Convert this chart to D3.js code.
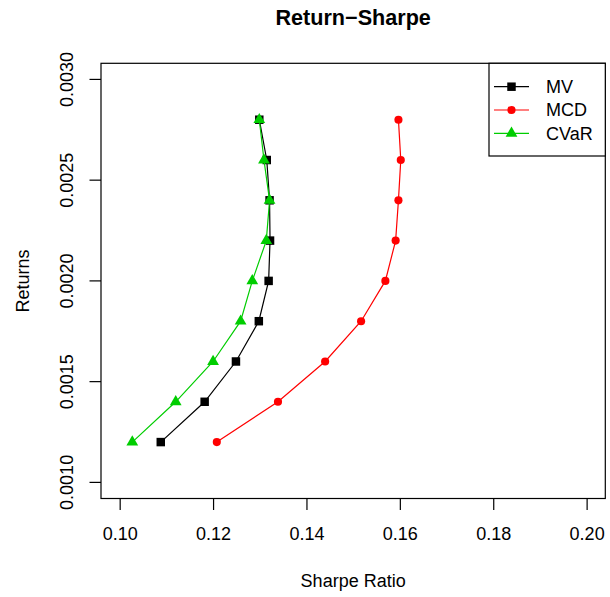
<!DOCTYPE html>
<html>
<head>
<meta charset="utf-8">
<script src="https://cdn.jsdelivr.net/npm/d3@7"></script>
<style>
  body { margin: 0; background: #fff; }
  svg { display: block; font-family: "Liberation Sans", Arial, sans-serif; }
</style>
</head>
<body>
<div id="chart"></div>
<script>
// Return - Sharpe frontier, three portfolio methods
var returns = [0.0012, 0.0014, 0.0016, 0.0018, 0.0020, 0.0022, 0.0024, 0.0026, 0.0028];
var sharpeMV   = [0.1088, 0.1182, 0.1249, 0.1298, 0.1319, 0.1322, 0.1321, 0.1315, 0.1299];
var sharpeMCD  = [0.1208, 0.1339, 0.1440, 0.1517, 0.1569, 0.1591, 0.1597, 0.1602, 0.1597];
var sharpeCVaR = [0.1027, 0.1120, 0.1200, 0.1259, 0.1284, 0.1314, 0.1321, 0.1309, 0.1299];
var seriesNames = ["MV", "MCD", "CVaR"];
var xTicks = [0.10, 0.12, 0.14, 0.16, 0.18, 0.20];
var yTicks = [0.0010, 0.0015, 0.0020, 0.0025, 0.0030];

var width = 610, height = 597,
    box = {left: 101, right: 605.3, top: 63.3, bottom: 498.5},
    fs = 18;

var colors = {MV: "#000000", MCD: "#FF0000", CVaR: "#00CD00"},
    shapes = {MV: d3.symbolSquare, MCD: d3.symbolCircle, CVaR: d3.symbolTriangle},
    sizes = {MV: 72, MCD: 52, CVaR: 60};

// R style: 4% padding around xlim / ylim
function pad(lim) {
    var d = (lim[1] - lim[0]) * 0.04;
    return [lim[0] - d, lim[1] + d];
}

var x = d3.scaleLinear().domain(pad([0.1, 0.2])).range([box.left, box.right]),
    y = d3.scaleLinear().domain(pad([0.001, 0.003])).range([box.bottom, box.top]);

var svg = d3.select("#chart").append("svg")
    .attr("width", width)
    .attr("height", height);

svg.append("text")
    .attr("x", (box.left + box.right) / 2)
    .attr("y", 25)
    .attr("text-anchor", "middle")
    .style("font-weight", "bold")
    .style("font-size", (fs * 1.2) + "px")
    .text("Return\u2212Sharpe");

// axes
var xAxis = svg.append("g")
    .attr("transform", "translate(0," + box.bottom + ")")
    .call(d3.axisBottom(x).tickValues(xTicks).tickSize(11.5).tickPadding(6)
        .tickFormat(d3.format(".2f")));

var yAxis = svg.append("g")
    .attr("transform", "translate(" + box.left + ",0)")
    .call(d3.axisLeft(y).tickValues(yTicks).tickSize(11.5).tickFormat(d3.format(".4f")));

[xAxis, yAxis].forEach(function(a) {
    a.select(".domain").remove();
    a.selectAll("line").attr("stroke", "#000").attr("stroke-width", 1.2);
    a.selectAll("text").style("font-size", fs + "px").attr("fill", "#000");
});

xAxis.selectAll("text").attr("dy", null).attr("y", 41.5);

yAxis.selectAll("text")
    .attr("x", null).attr("dy", null)
    .attr("text-anchor", "middle")
    .attr("transform", function(d) { return "translate(" + (-28) + "," + y(d) + ") rotate(-90)"; });
yAxis.selectAll(".tick").attr("transform", null);
yAxis.selectAll(".tick line").attr("y1", function(d) { return y(d); }).attr("y2", function(d) { return y(d); });

svg.append("rect")
    .attr("x", box.left).attr("y", box.top)
    .attr("width", box.right - box.left)
    .attr("height", box.bottom - box.top)
    .attr("fill", "none").attr("stroke", "#000").attr("stroke-width", 1.2);

svg.append("text")
    .attr("x", (box.left + box.right) / 2)
    .attr("y", 587)
    .attr("text-anchor", "middle")
    .style("font-size", fs + "px")
    .text("Sharpe Ratio");

svg.append("text")
    .attr("transform", "translate(29," + ((box.top + box.bottom) / 2) + ") rotate(-90)")
    .attr("text-anchor", "middle")
    .style("font-size", fs + "px")
    .text("Returns");

// series
var series = [
    {name: "MV", values: sharpeMV},
    {name: "MCD", values: sharpeMCD},
    {name: "CVaR", values: sharpeCVaR}
];

var line = d3.line()
    .x(function(d) { return x(d[0]); })
    .y(function(d) { return y(d[1]); });

series.forEach(function(s) {
    var pts = s.values.map(function(v, i) { return [v, returns[i]]; });
    var g = svg.append("g");
    g.append("path")
        .attr("d", line(pts))
        .attr("fill", "none")
        .attr("stroke", colors[s.name])
        .attr("stroke-width", 1.2);
    g.selectAll("path.pt").data(pts).enter().append("path")
        .attr("class", "pt")
        .attr("transform", function(d) { return "translate(" + x(d[0]) + "," + y(d[1]) + ")"; })
        .attr("d", d3.symbol().type(shapes[s.name]).size(sizes[s.name]))
        .attr("fill", colors[s.name]);
});

// legend (top right)
var lg = svg.append("g");
lg.append("rect")
    .attr("x", 489).attr("y", box.top)
    .attr("width", box.right - 489).attr("height", 156 - box.top)
    .attr("fill", "#fff").attr("stroke", "#000").attr("stroke-width", 1.2);

seriesNames.forEach(function(n, i) {
    var ly = 86.7 + i * 23.3;
    lg.append("line")
        .attr("x1", 494).attr("x2", 529)
        .attr("y1", ly).attr("y2", ly)
        .attr("stroke", colors[n]).attr("stroke-width", 1.2);
    lg.append("path")
        .attr("transform", "translate(511.5," + ly + ")")
        .attr("d", d3.symbol().type(shapes[n]).size(sizes[n]))
        .attr("fill", colors[n]);
    lg.append("text")
        .attr("x", 546).attr("y", ly)
        .attr("dy", "0.35em")
        .style("font-size", fs + "px")
        .text(n);
});
</script>
</body>
</html>
